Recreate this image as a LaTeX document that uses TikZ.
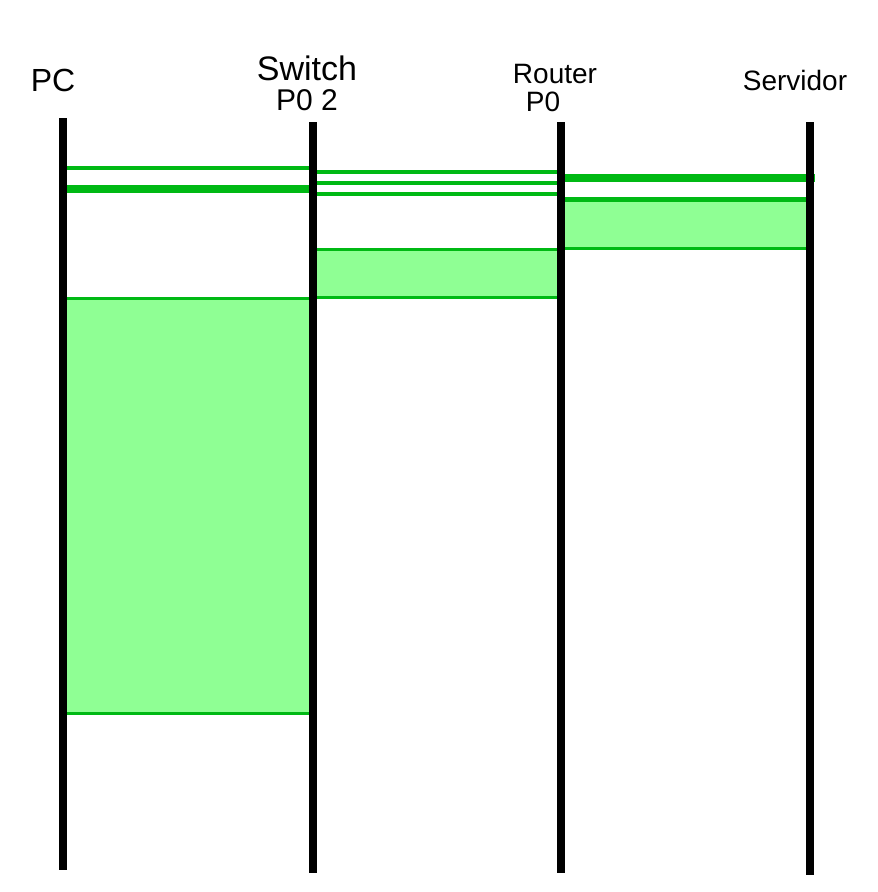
\documentclass[tikz,border=0pt]{standalone}
\usepackage{fontspec}
\setmainfont{Liberation Sans}
\usetikzlibrary{positioning}
\definecolor{msggreen}{HTML}{00B914}
\definecolor{boxgreen}{HTML}{8FFF94}

\begin{document}
\begin{tikzpicture}[x=1pt,y=-1pt,every node/.style={font=\fontsize{28}{32}\selectfont,align=center,inner sep=0pt},lifeline/.style={line width=7.5pt,black},msg/.style={draw=msggreen,line width=#1},msg/.default=3.5pt,hop/.style={fill=boxgreen}]
\useasboundingbox (0,0) rectangle (878,892);
\coordinate (pcT) at (63,118); \coordinate (pcB) at (63,870);
\coordinate (swT) at (313,122); \coordinate (swB) at (313,873);
\coordinate (rtT) at (561,122); \coordinate (rtB) at (561,873);
\coordinate (svT) at (810,122); \coordinate (svB) at (810,875);
\node[font=\fontsize{32}{36}\selectfont] (pc) at (53,80) {PC};
\node[font=\fontsize{34}{38}\selectfont] (sw) at (307,68) {Switch};
\node[font=\fontsize{30}{34}\selectfont,below=9pt of sw] (swport) {P0 2};
\node (rt) at (555,74) {Router};
\node[below=8pt of rt,xshift=-12pt] (rtport) {P0};
\node (sv) at (795,80) {Servidor};
\fill[hop] (pcT |- 0,298) rectangle (swT |- 0,713);
\fill[hop] (swT |- 0,249) rectangle (rtT |- 0,297);
\fill[hop] (rtT |- 0,199) rectangle (svT |- 0,248);
\draw[msg] (pcT |- 0,168) -- (swT |- 0,168);
\draw[msg=7.5pt] (pcT |- 0,189) -- (swT |- 0,189);
\draw[msg=3pt] (pcT |- 0,298) -- (swT |- 0,298);
\draw[msg=3pt] (pcT |- 0,713) -- (swT |- 0,713);
\draw[msg] (swT |- 0,172) -- (rtT |- 0,172);
\draw[msg] (swT |- 0,183) -- (rtT |- 0,183);
\draw[msg] (swT |- 0,194) -- (rtT |- 0,194);
\draw[msg=3pt] (swT |- 0,249) -- (rtT |- 0,249);
\draw[msg=3pt] (swT |- 0,297) -- (rtT |- 0,297);
\draw[msg=7.5pt] (rtT |- 0,178) -- ([xshift=5pt]svT |- 0,178);
\draw[msg=5pt] (rtT |- 0,199) -- (svT |- 0,199);
\draw[msg=3pt] (rtT |- 0,248) -- (svT |- 0,248);
\draw[lifeline] (pcT) -- (pcB);
\draw[lifeline] (swT) -- (swB);
\draw[lifeline] (rtT) -- (rtB);
\draw[lifeline] (svT) -- (svB);
\end{tikzpicture}
\end{document}
